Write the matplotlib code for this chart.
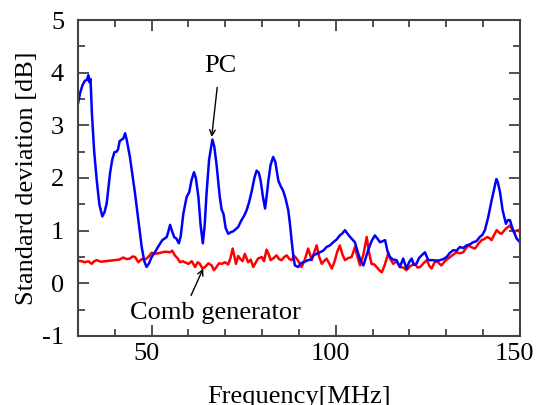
import matplotlib.pyplot as plt
import matplotlib.transforms as mtransforms
from matplotlib.ticker import MultipleLocator

plt.rcParams['font.family'] = ['Liberation Serif', 'DejaVu Serif']
plt.rcParams['axes.unicode_minus'] = False

# PC (blue)
pc_freq = [30, 30.6, 31.2, 31.9, 32.4, 32.8, 33.1, 33.4, 33.8, 34.4, 35.1, 35.8, 36.6, 37.2,
           37.8, 38.7, 39.3, 39.9, 40.5, 40.9, 41.3, 41.7, 42.3, 42.8, 43.3, 44.1, 44.8, 45.5,
           46.4, 47.3, 48.0, 48.6, 49.3, 50.0, 50.8, 51.8, 52.9, 54.1, 54.6, 55.0, 55.5, 56.1,
           56.7, 57.4, 57.9, 58.6, 59.5, 60.2, 60.8, 61.5, 62.0, 62.7, 63.3, 63.9, 64.4, 64.9,
           65.6, 66.5, 67.0, 67.6, 68.5, 69.0, 69.5, 70.1, 70.8, 71.5, 72.2, 73.5, 74.4, 75.1,
           75.8, 76.5, 77.2, 77.9, 78.5, 79.1, 79.6, 80.2, 80.8, 81.3, 81.7, 82.3, 83.0, 83.6,
           84.4, 85.0, 85.7, 86.4, 87.1, 87.6, 88.0, 88.5, 88.9, 89.8, 90.5, 91.2, 92.5, 93.2,
           93.9, 94.8, 95.7, 96.6, 97.5, 98.4, 99.3, 100.2, 101.1, 101.8, 102.5, 103.2, 103.9,
           105.2, 106.1, 106.8, 107.5, 108.2, 108.8, 109.7, 110.6, 111.3, 112.0, 112.7, 113.4,
           114.0, 114.7, 115.6, 116.5, 117.4, 118.3, 119.2, 119.9, 120.6, 121.2, 121.9, 122.6,
           123.3, 124.2, 125.1, 126.5, 127.4, 128.3, 129.2, 130.1, 131.0, 131.9, 132.8, 133.7,
           134.6, 135.5, 136.4, 137.3, 138.2, 139.1, 139.8, 140.5, 141.4, 142.3, 143.2, 143.6,
           144.0, 144.6, 145.3, 146.2, 146.7, 147.3, 147.8, 148.2, 149.1, 150]
pc_std = [3.41, 3.62, 3.76, 3.85, 3.86, 3.95, 3.82, 3.88, 3.2, 2.5, 1.95, 1.5, 1.27, 1.35,
          1.52, 2.09, 2.35, 2.49, 2.5, 2.55, 2.7, 2.72, 2.75, 2.85, 2.7, 2.40, 2.05, 1.70,
          1.20, 0.69, 0.42, 0.31, 0.38, 0.50, 0.58, 0.70, 0.82, 0.88, 1.0, 1.11, 1.0, 0.88,
          0.85, 0.76, 0.9, 1.32, 1.64, 1.73, 1.95, 2.11, 2.0, 1.64, 1.1, 0.76, 1.1, 1.70,
          2.35, 2.73, 2.6, 2.27, 1.64, 1.4, 1.32, 1.05, 0.94, 0.97, 0.99, 1.07, 1.20, 1.28,
          1.39, 1.55, 1.76, 2.0, 2.14, 2.1, 1.95, 1.65, 1.42, 1.7, 1.95, 2.25, 2.40, 2.3,
          1.95, 1.85, 1.76, 1.6, 1.39, 1.1, 0.82, 0.5, 0.34, 0.31, 0.38, 0.40, 0.44, 0.45,
          0.53, 0.56, 0.59, 0.62, 0.69, 0.72, 0.78, 0.83, 0.91, 0.95, 1.01, 0.94, 0.88,
          0.78, 0.56, 0.42, 0.34, 0.5, 0.63, 0.8, 0.91, 0.85, 0.78, 0.8, 0.82,
          0.62, 0.50, 0.45, 0.44, 0.31, 0.47, 0.28, 0.4, 0.47, 0.35, 0.37, 0.48,
          0.53, 0.59, 0.44, 0.44, 0.42, 0.44, 0.46, 0.50, 0.58, 0.63, 0.62, 0.69,
          0.67, 0.72, 0.74, 0.78, 0.80, 0.88, 0.92, 1.01, 1.26, 1.57, 1.86, 1.98,
          1.92, 1.73, 1.39, 1.13, 1.2, 1.20, 1.08, 1.01, 0.85, 0.78]

# Comb generator (red)
comb_freq = [30, 31.0, 31.9, 32.8, 33.7, 34.4, 35.1, 36.2, 37.3, 38.6, 40.0, 41.2, 42.3, 43.2,
             44.1, 44.8, 45.5, 46.4, 47.3, 48.2, 49.1, 50.0, 51.1, 52.3, 53.6, 55.0, 55.6,
             56.3, 57.0, 57.7, 58.4, 59.0, 60.0, 60.9, 61.8, 62.5, 63.1, 63.8, 64.5, 65.4,
             66.3, 66.9, 67.6, 68.3, 69.0, 69.9, 70.8, 71.4, 72.0, 72.9, 73.5, 74.0, 74.7,
             75.3, 76.2, 76.9, 77.6, 78.3, 78.9, 79.9, 80.5, 81.2, 81.8, 82.3, 83.1, 83.9,
             84.6, 85.3, 86.0, 86.7, 87.4, 88.0, 88.7, 89.4, 90.0, 90.7, 91.6, 92.5, 93.0,
             93.5, 94.2, 94.8, 95.5, 96.2, 96.9, 97.5, 98.2, 98.9, 99.6, 100.4, 101.1, 101.8,
             102.5, 103.4, 104.3, 104.8, 105.2, 105.9, 106.6, 107.5, 108.4, 109.0, 109.7,
             110.4, 111.1, 111.8, 112.5, 113.3, 114.2, 114.9, 115.6, 116.5, 117.4, 118.3,
             119.2, 120.3, 121.5, 122.2, 122.9, 123.8, 124.7, 125.4, 126.0, 126.7, 127.4,
             128.0, 128.7, 129.6, 130.5, 131.6, 132.8, 133.7, 134.6, 135.3, 136.0, 137.0,
             137.8, 138.7, 139.6, 140.3, 141.1, 141.7, 142.3, 143.0, 143.7, 144.4, 145.0,
             145.6, 146.2, 146.8, 147.3, 147.9, 148.4, 149.0, 149.6, 150.0]
comb_std = [0.43, 0.42, 0.40, 0.42, 0.37, 0.42, 0.44, 0.41, 0.42, 0.43, 0.44, 0.45, 0.49, 0.46,
            0.47, 0.51, 0.50, 0.40, 0.46, 0.45, 0.50, 0.58, 0.56, 0.58, 0.60, 0.59, 0.62,
            0.53, 0.48, 0.40, 0.42, 0.40, 0.37, 0.42, 0.31, 0.40, 0.37, 0.28, 0.31, 0.38,
            0.34, 0.25, 0.31, 0.38, 0.37, 0.40, 0.36, 0.48, 0.66, 0.37, 0.52, 0.47, 0.42,
            0.56, 0.40, 0.45, 0.31, 0.40, 0.47, 0.50, 0.42, 0.64, 0.55, 0.44, 0.48, 0.53,
            0.46, 0.44, 0.50, 0.53, 0.46, 0.44, 0.52, 0.47, 0.40, 0.31, 0.45, 0.66, 0.55,
            0.44, 0.60, 0.72, 0.50, 0.37, 0.43, 0.47, 0.38, 0.28, 0.40, 0.60, 0.72, 0.55,
            0.44, 0.48, 0.50, 0.60, 0.69, 0.50, 0.34, 0.55, 0.88, 0.60, 0.37,
            0.36, 0.31, 0.25, 0.21, 0.35, 0.56, 0.45, 0.37, 0.42, 0.31, 0.30,
            0.25, 0.33, 0.37, 0.30, 0.31, 0.38, 0.44, 0.33, 0.28, 0.38, 0.44,
            0.38, 0.34, 0.42, 0.47, 0.53, 0.59, 0.57, 0.59, 0.66, 0.72, 0.68,
            0.66, 0.75, 0.82, 0.84, 0.88, 0.86, 0.82, 0.92, 1.01, 0.96, 0.94,
            0.99, 1.04, 1.07, 1.10, 1.02, 0.97, 1.00, 1.01, 0.97]

fig, ax = plt.subplots(figsize=(5.36, 4.05), dpi=100)
fig.subplots_adjust(left=0.1455, right=0.970, bottom=0.1704, top=0.9506)

ax.plot(comb_freq, comb_std, color='#ff0000', lw=1.8)
ax.plot(pc_freq, pc_std, color='#0000ff', lw=1.8)

ax.set_xlim(30, 150)
ax.set_ylim(-1, 5)
ax.xaxis.set_major_locator(MultipleLocator(50))
ax.xaxis.set_minor_locator(MultipleLocator(10))
ax.yaxis.set_major_locator(MultipleLocator(1))
ax.yaxis.set_minor_locator(MultipleLocator(0.5))
ax.tick_params(which='both', direction='in', top=True, right=True, color='#333333',
               labelsize=19, width=1.2)
ax.tick_params(which='major', length=8)
ax.tick_params(axis='x', which='major', pad=5)
ax.tick_params(axis='y', which='major', pad=10)
ax.tick_params(which='minor', length=5)
for s in ax.spines.values():
    s.set_color('#444444')
    s.set_linewidth(1.5)

# x tick labels sit a little left of their ticks in the original
shift = mtransforms.ScaledTranslation(-5 / 100, 0, fig.dpi_scale_trans)
for lbl in ax.get_xticklabels():
    lbl.set_transform(lbl.get_transform() + shift)

ax.set_xlabel('Frequency[MHz]', fontsize=19, labelpad=15)
ax.set_ylabel('Standard deviation [dB]', fontsize=19, labelpad=3)

ax.text(68.6, 4.12, 'PC', fontsize=19, ha='center', va='center')
ax.annotate('', xy=(66.3, 2.78), xytext=(67.8, 3.72),
            arrowprops=dict(arrowstyle='->', color='black', lw=1, shrinkA=0, shrinkB=0))
ax.text(67.2, -0.56, 'Comb generator', fontsize=19, ha='center', va='center')
ax.annotate('', xy=(64.0, 0.28), xytext=(60.7, -0.23),
            arrowprops=dict(arrowstyle='->', color='black', lw=1, shrinkA=0, shrinkB=0))

plt.savefig('out.png')
